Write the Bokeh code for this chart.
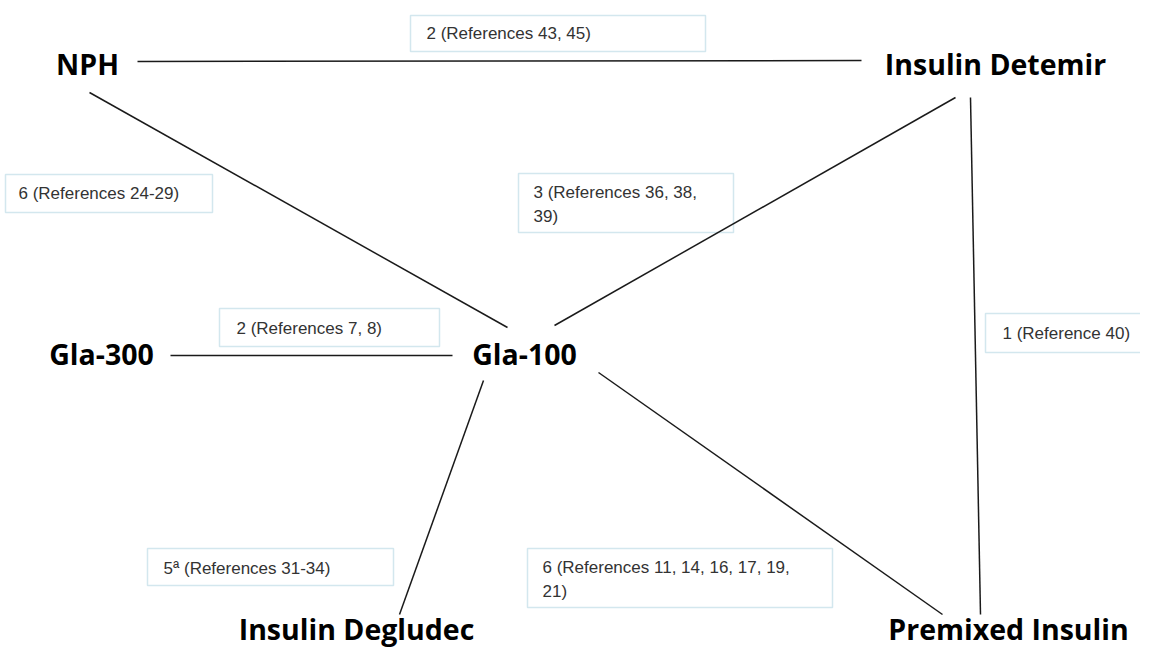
from bokeh.plotting import figure
from bokeh.models import Range1d
from bokeh.core.properties import value
from bokeh.embed import file_html
from bokeh.resources import INLINE

# ---------------- data ----------------
treatments = ["NPH", "Insulin Detemir", "Gla-300", "Gla-100",
              "Insulin Degludec", "Premixed Insulin"]

edge_from = ["NPH", "NPH", "Gla-300", "Gla-100", "Gla-100", "Gla-100", "Insulin Detemir"]
edge_to = ["Insulin Detemir", "Gla-100", "Gla-100", "Insulin Detemir",
           "Insulin Degludec", "Premixed Insulin", "Premixed Insulin"]
study_counts = ["2", "6", "2", "3", "5\u00aa", "6", "1"]
references = ["(References 43, 45)", "(References 24-29)", "(References 7, 8)",
              "(References 36, 38,\n39)", "(References 31-34)",
              "(References 11, 14, 16, 17, 19,\n21)", "(Reference 40)"]

# ---------------- layout (pixel-like diagram coordinates) ----------------
node_x = [87, 995, 101, 524, 356, 1008]
node_y = [63, 63, 353, 353, 628, 628]          # vertical centres of labels

seg_x0 = [137, 89, 170, 554, 483, 598, 970]
seg_y0 = [61, 92, 355, 325, 380, 372, 97]
seg_x1 = [861, 507, 452, 955, 399, 942, 980]
seg_y1 = [60, 327, 355, 97, 614, 614, 614]

box_l = [410, 5, 219, 518, 147, 527, 985]
box_r = [705, 212, 439, 733, 393, 832, 1170]
box_t = [15, 174, 308, 173, 548, 548, 313]
box_b = [51, 212, 346, 232, 585, 607, 352]
lab_x = [426, 18, 236, 533, 163, 542, 1002]
lab_y = [33, 193, 328, 204, 568, 579, 333]

labels = [c + " " + r for c, r in zip(study_counts, references)]

W, H = 1140, 652
p = figure(width=W, height=H, output_backend="svg", toolbar_location=None,
           x_range=Range1d(0, W), y_range=Range1d(H, 0),
           min_border=0, outline_line_color=None)
p.axis.visible = False
p.grid.visible = False
p.background_fill_color = "white"
p.border_fill_color = "white"

# label boxes
p.quad(left=box_l, right=box_r, top=box_t, bottom=box_b,
       fill_color="white", line_color="#d3e7ee", line_width=1.5)

# edges
p.segment(x0=seg_x0, y0=seg_y0, x1=seg_x1, y1=seg_y1,
          line_color="#1a1a1a", line_width=1.5)

# edge labels
p.text(x=lab_x, y=lab_y, text=labels, text_font=value("Liberation Sans"),
       text_font_size="17px", text_color="#333333", text_align="left",
       text_baseline="middle", text_line_height=1.3)

# node labels
p.text(x=node_x, y=node_y, text=treatments, text_font=value("Open Sans"),
       text_font_style="bold", text_font_size="28.5px", text_color="black",
       text_align="center", text_baseline="middle")

open("out.html", "w").write(file_html(p, INLINE))
